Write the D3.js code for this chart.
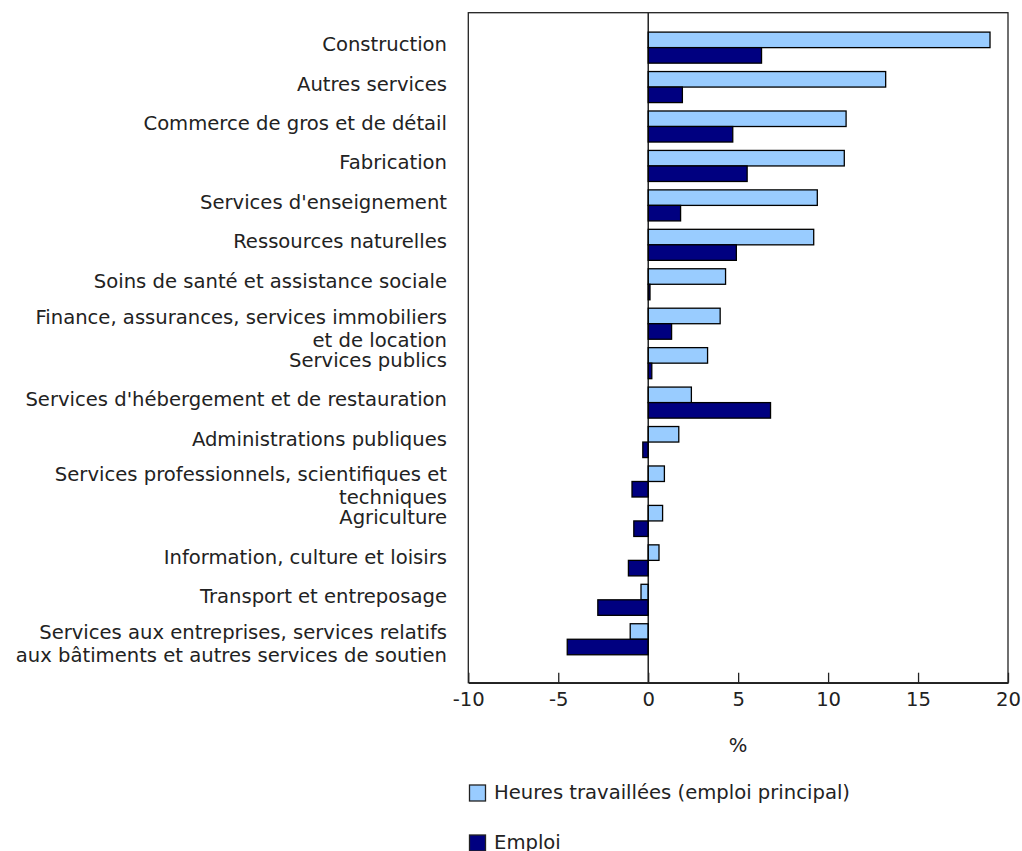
<!DOCTYPE html>
<html>
<head>
<meta charset="utf-8">
<script src="https://cdn.jsdelivr.net/npm/d3@7"></script>
<style>
  html, body { margin: 0; padding: 0; background: #fff; }
  svg text { font-family: "DejaVu Sans", Verdana, sans-serif; fill: #222; }
</style>
</head>
<body>
<svg id="chart" width="1022" height="851"></svg>
<script>
const categories = [
  "Construction",
  "Autres services",
  "Commerce de gros et de détail",
  "Fabrication",
  "Services d'enseignement",
  "Ressources naturelles",
  "Soins de santé et assistance sociale",
  "Finance, assurances, services immobiliers\net de location",
  "Services publics",
  "Services d'hébergement et de restauration",
  "Administrations publiques",
  "Services professionnels, scientifiques et\ntechniques",
  "Agriculture",
  "Information, culture et loisirs",
  "Transport et entreposage",
  "Services aux entreprises, services relatifs\naux bâtiments et autres services de soutien"
];
const heures = [19.0, 13.2, 11.0, 10.9, 9.4, 9.2, 4.3, 4.0, 3.3, 2.4, 1.7, 0.9, 0.8, 0.6, -0.4, -1.0];
const emploi = [6.3, 1.9, 4.7, 5.5, 1.8, 4.9, 0.1, 1.3, 0.2, 6.8, -0.3, -0.9, -0.8, -1.1, -2.8, -4.5];
const xTicks = [-10, -5, 0, 5, 10, 15, 20];
const seriesNames = ["Heures travaillées (emploi principal)", "Emploi"];
const seriesColors = ["#99ccff", "#000080"];
const axisTitle = "%";

const FS = 19.6;
const svg = d3.select("#chart");
const pLeft = 468.3, pRight = 1008, pTop = 12.7, pBottom = 682.7;

const x = d3.scaleLinear().domain([-10, 20]).range([pLeft, pRight]);
const y = d3.scaleBand().domain(categories).range([pTop, pBottom])
  .paddingInner(0.213).paddingOuter(0.6).align(0.41);
const sub = d3.scaleBand().domain([0, 1]).range([0, y.bandwidth()]);

const series = [heures, emploi];

// bars
series.forEach((vals, si) => {
  svg.append("g").selectAll("rect")
    .data(categories.map((c, i) => ({ c, v: vals[i] })))
    .join("rect")
    .attr("x", d => x(Math.min(0, d.v)))
    .attr("y", d => y(d.c) + sub(si))
    .attr("width", d => Math.abs(x(d.v) - x(0)))
    .attr("height", sub.bandwidth())
    .attr("fill", seriesColors[si])
    .attr("stroke", "#000")
    .attr("stroke-width", 1.3);
});

// zero line
svg.append("line")
  .attr("x1", x(0)).attr("x2", x(0))
  .attr("y1", pTop).attr("y2", pBottom)
  .attr("stroke", "#000").attr("stroke-width", 1.3);

// frame
svg.append("rect")
  .attr("x", pLeft).attr("y", pTop)
  .attr("width", pRight - pLeft).attr("height", pBottom - pTop)
  .attr("fill", "none").attr("stroke", "#222").attr("stroke-width", 1.3);

// x axis
const xAxis = d3.axisBottom(x).tickValues(xTicks).tickSizeInner(-10).tickSizeOuter(0).tickPadding(10)
  .tickFormat(d => d);
const gx = svg.append("g").attr("transform", `translate(0,${pBottom})`).call(xAxis);
gx.select(".domain").attr("stroke", "#222").attr("stroke-width", 1.5);
gx.selectAll(".tick line").attr("stroke", "#222").attr("stroke-width", 1.3);
gx.selectAll(".tick text").attr("font-size", FS).attr("y", 18).attr("dy", "0").attr("dominant-baseline", "middle")
  .style("font-family", '"DejaVu Sans", Verdana, sans-serif').attr("fill", "#222");

// axis title
svg.append("text").attr("x", x(5)).attr("y", 746)
  .attr("text-anchor", "middle").attr("dominant-baseline", "middle")
  .attr("font-size", FS).text(axisTitle);

// category labels
const gl = svg.append("g");
categories.forEach(c => {
  const lines = c.split("\n");
  const cy = y(c) + y.bandwidth() / 2;
  const t = gl.append("text").attr("text-anchor", "end").attr("font-size", FS)
    .attr("dominant-baseline", "middle");
  if (lines.length === 1) {
    t.attr("x", 447).attr("y", cy - 2).text(lines[0]);
  } else {
    t.append("tspan").attr("x", 447).attr("y", cy - 6).text(lines[0]);
    t.append("tspan").attr("x", 447).attr("y", cy + 17).text(lines[1]);
  }
});

// legend
const legY = [793, 843];
seriesNames.forEach((name, i) => {
  svg.append("rect").attr("x", 469.5).attr("y", legY[i] - 8)
    .attr("width", 16).attr("height", 16)
    .attr("fill", seriesColors[i]).attr("stroke", "#222").attr("stroke-width", 1.3);
  svg.append("text").attr("x", 494).attr("y", legY[i])
    .attr("dominant-baseline", "middle").attr("font-size", FS).text(name);
});
</script>
</body>
</html>
